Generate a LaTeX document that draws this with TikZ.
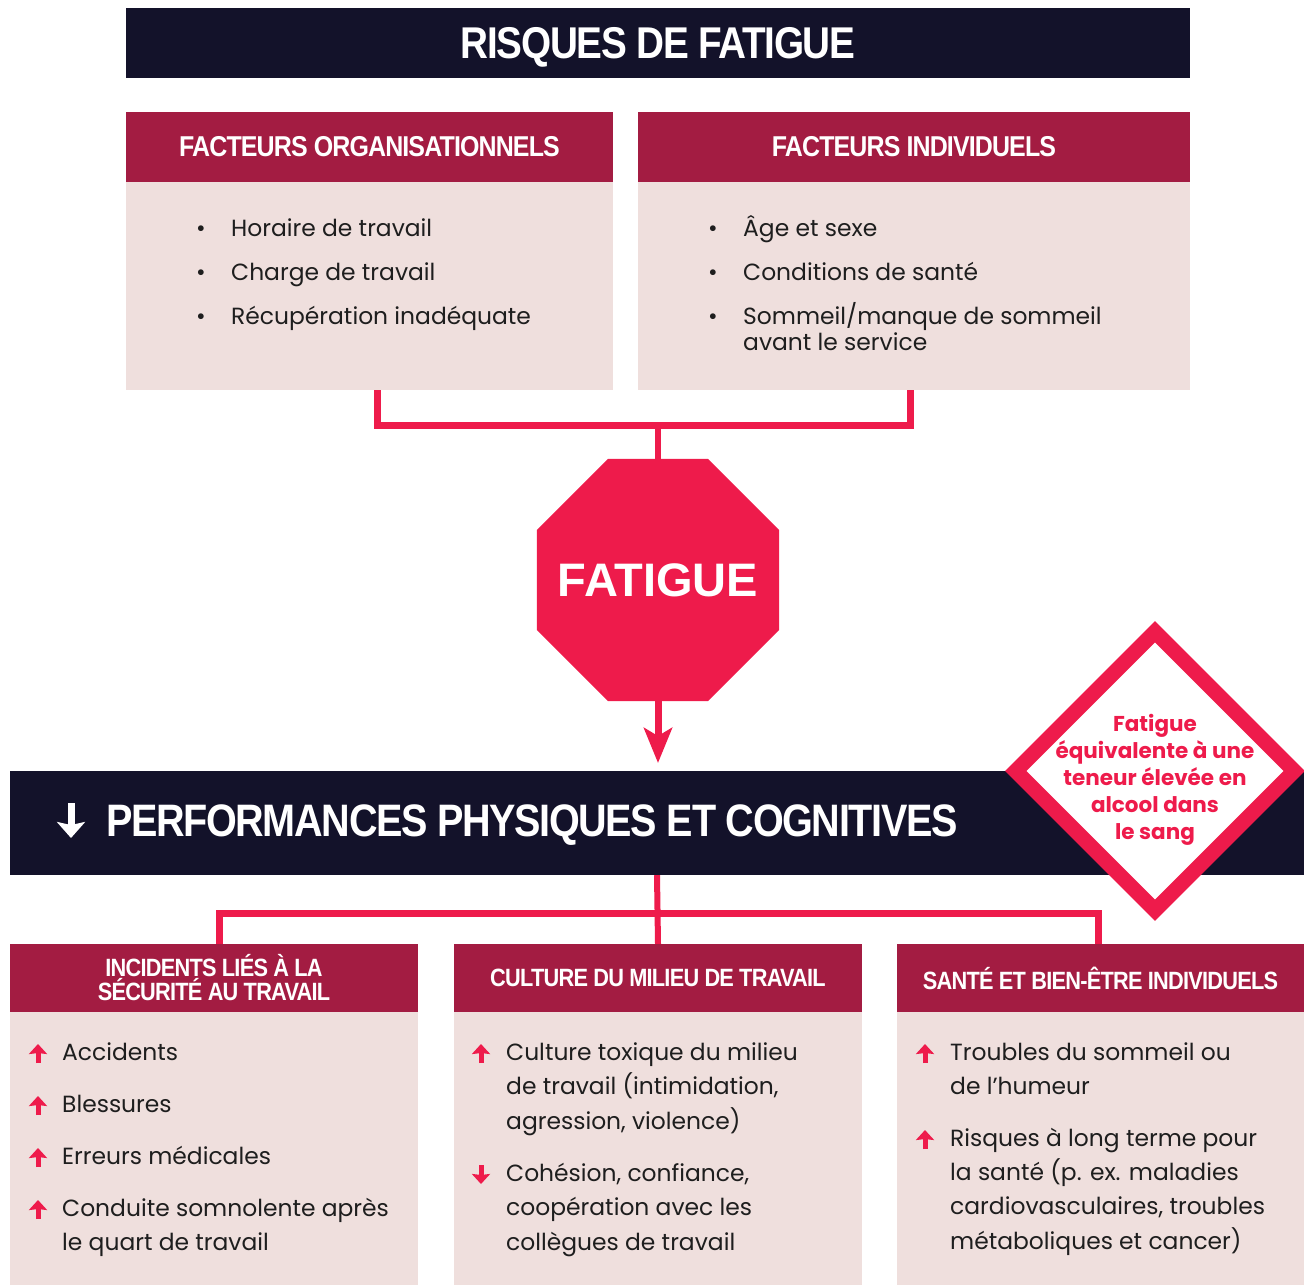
\documentclass[tikz,border=0pt]{standalone}
\usepackage{fontspec}
\setmainfont{Poppins}
\newfontfamily\headfont[FakeStretch=0.87,LetterSpace=-3]{Liberation Sans Bold}
\newfontfamily\stopfont{Liberation Sans Bold}
\usetikzlibrary{shapes.geometric,arrows.meta}
\definecolor{navy}{HTML}{13122A}
\definecolor{crimson}{HTML}{A31C42}
\definecolor{pinkbg}{HTML}{EFDFDD}
\definecolor{fatred}{HTML}{EE1B4B}
\definecolor{ink}{HTML}{1E1E1E}
\tikzset{
  bar/.style={fill=navy,text=white,inner sep=0pt},
  headbox/.style={fill=crimson,text=white,inner sep=0pt,align=center,font=\headfont\fontsize{25}{24}\selectfont},
  bodybox/.style={fill=pinkbg,inner sep=0pt},
  item/.style={anchor=base west,inner sep=0pt,text=ink,font=\fontsize{23.4}{28}\selectfont},
  bul/.style={anchor=base,inner sep=0pt,text=ink,font=\fontsize{23.4}{28}\selectfont},
  link/.style={draw=fatred,line width=7pt},
  upicon/.style={draw=fatred,line width=5pt,-{Stealth[length=10pt,width=18pt,inset=1pt]}},
}

\begin{document}
\begin{tikzpicture}[x=1pt,y=-1pt]
	%%%%% START %%%%%
	\useasboundingbox (0,0) rectangle (1304,1285);
	
	\node[bar,minimum width=1064pt,minimum height=70pt,text depth=0pt,font=\headfont\fontsize{44.5}{44}\selectfont] (risques) at (658,43) {RISQUES DE FATIGUE};
	
	% facteurs
	\node[headbox,minimum width=487pt,minimum height=70pt,font=\headfont\fontsize{28.7}{28}\selectfont] (orghead) at (369.5,147) {FACTEURS ORGANISATIONNELS};
	\node[bodybox,minimum width=487pt,minimum height=208pt] (orgbody) at (369.5,286) {};
	\node[headbox,minimum width=552pt,minimum height=70pt,font=\headfont\fontsize{28.7}{28}\selectfont] (indhead) at (914,147) {FACTEURS INDIVIDUELS};
	\node[bodybox,minimum width=552pt,minimum height=208pt] (indbody) at (914,286) {};
	
	\node[bul] (ob1) at (201,236) {•};
	\node[item] (o1) at (231,236) {Horaire de travail};
	\node[bul] (ob2) at (201,280) {•};
	\node[item] (o2) at (231,280) {Charge de travail};
	\node[bul] (ob3) at (201,324) {•};
	\node[item] (o3) at (231,324) {Récupération inadéquate};
	
	\node[bul] (ib1) at (713,236) {•};
	\node[item] (i1) at (743,236) {Âge et sexe};
	\node[bul] (ib2) at (713,280) {•};
	\node[item] (i2) at (743,280) {Conditions de santé};
	\node[bul] (ib3) at (713,324) {•};
	\node[item] (i3) at (743,324) {Sommeil/manque de sommeil};
	\node[item] (i3b) at (743,350) {avant le service};
	
	% fatigue
	\node[regular polygon,regular polygon sides=8,minimum size=262pt,inner sep=0pt,fill=fatred] (fatigue) at (658,580) {};
	\node[inner sep=0pt,text=white,font=\stopfont\fontsize{47}{47}\selectfont] (fatiguetxt) at (fatigue.center) {FATIGUE};
	
	\coordinate (jtop) at (658,425);
	\draw[link] ([xshift=8pt]orgbody.south) |- (jtop) -| ([xshift=-4pt]indbody.south);
	\draw[link,line width=6pt] (jtop) -- (fatigue.north);
	
	\coordinate (arrowend) at (658,763);
	\draw[link,line width=7pt,-{Stealth[length=35pt,width=28pt,inset=8pt]}] (fatigue.south) -- (arrowend);
	
	% performances
	\node[bar,minimum width=1294pt,minimum height=104pt] (perf) at (657,823) {};
	\draw[white,line width=7pt,-{Stealth[length=16pt,width=28pt,inset=3pt]}] (71,803) -- (71,838);
	\node[anchor=base west,inner sep=0pt,text=white,font=\headfont\fontsize{45.5}{46}\selectfont] (perftxt) at (106,836) {PERFORMANCES PHYSIQUES ET COGNITIVES};
	
	\node[diamond,draw=fatred,fill=white,line width=15pt,minimum size=284.8pt,inner sep=0pt] (alcool) at (1155,771) {};
	\node[align=center,inner sep=0pt,text=fatred,font=\bfseries\fontsize{21.5}{27}\selectfont] (alcooltxt) at (1155,780) {Fatigue\\équivalente à une\\teneur élevée en\\alcool dans\\le sang};
	
	% consequences
	\node[headbox,minimum width=408pt,minimum height=68pt] (sechead) at (214,978) {INCIDENTS LIÉS À LA\\SÉCURITÉ AU TRAVAIL};
	\node[bodybox,minimum width=408pt,minimum height=273pt] (secbody) at (214,1148.5) {};
	\node[headbox,minimum width=408pt,minimum height=68pt] (culhead) at (658,978) {CULTURE DU MILIEU DE TRAVAIL};
	\node[bodybox,minimum width=408pt,minimum height=273pt] (culbody) at (658,1148.5) {};
	\node[headbox,minimum width=407pt,minimum height=68pt] (sanhead) at (1100.5,978) {SANTÉ ET BIEN-ÊTRE INDIVIDUELS};
	\node[bodybox,minimum width=407pt,minimum height=273pt] (sanbody) at (1100.5,1148.5) {};
	
	\coordinate (jbot) at (658,913);
	\draw[link,line width=6pt] (perf.south) -- (culhead.north);
	\draw[link] ([xshift=5pt]sechead.north) |- (jbot) -| ([xshift=-2.5pt]sanhead.north);
	
	\draw[upicon] (38,1063) -- (38,1044);
	\node[item] (s1) at (62,1060) {Accidents};
	\draw[upicon] (38,1115) -- (38,1096);
	\node[item] (s2) at (62,1112) {Blessures};
	\draw[upicon] (38,1167) -- (38,1148);
	\node[item] (s3) at (62,1164) {Erreurs médicales};
	\draw[upicon] (38,1219) -- (38,1200);
	\node[item] (s4) at (62,1216) {Conduite somnolente après};
	\node[item] (s4b) at (62,1250) {le quart de travail};
	
	\draw[upicon] (481,1063) -- (481,1044);
	\node[item] (c1) at (506,1060) {Culture toxique du milieu};
	\node[item] (c1b) at (506,1094) {de travail (intimidation,};
	\node[item] (c1c) at (506,1129) {agression, violence)};
	\draw[upicon] (481,1165) -- (481,1184);
	\node[item] (c2) at (506,1181) {Cohésion, confiance,};
	\node[item] (c2b) at (506,1215) {coopération avec les};
	\node[item] (c2c) at (506,1250) {collègues de travail};
	
	\draw[upicon] (925,1063) -- (925,1044);
	\node[item] (h1) at (950,1060) {Troubles du sommeil ou};
	\node[item] (h1b) at (950,1094) {de l’humeur};
	\draw[upicon] (925,1149) -- (925,1130);
	\node[item] (h2) at (950,1146) {Risques à long terme pour};
	\node[item] (h2b) at (950,1180) {la santé (p. ex. maladies};
	\node[item] (h2c) at (950,1214) {cardiovasculaires, troubles};
	\node[item] (h2d) at (950,1249) {métaboliques et cancer)};
	
	%%%%% END %%%%%
\end{tikzpicture}
\end{document}
